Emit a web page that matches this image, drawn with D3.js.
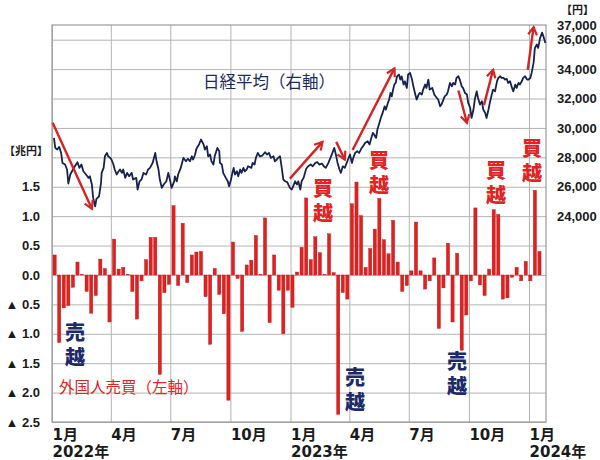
<!DOCTYPE html>
<html>
<head>
<meta charset="utf-8">
<title>外国人売買と日経平均</title>
<style>
  body { margin: 0; background: #fff; }
  #viz { width: 600px; height: 460px; }
  .grid line { stroke: #b4b4b4; stroke-width: 1; }
  .grid .domain { display: none; }
  .axis .domain { display: none; }
  .axis text { font-family: "Liberation Sans", Arial, sans-serif; font-weight: bold; font-size: 13px; fill: #1a1a1a; }
  .xaxis text { font-family: "DejaVu Sans", "Noto Sans CJK JP", sans-serif; font-weight: bold; font-size: 15px; fill: #1a1a1a; }
  .unit { font-family: "Noto Sans CJK JP", sans-serif; font-weight: bold; font-size: 11px; fill: #1a1a1a; }
  .note { font-family: "Noto Sans CJK JP", sans-serif; }
  .vert { writing-mode: vertical-rl; }
</style>
</head>
<body>
<div id="viz"></div>
<script src="https://cdnjs.cloudflare.com/ajax/libs/d3/7.8.5/d3.min.js"></script>
<script>
// weekly net buying by foreign investors (trillion yen), weeks starting 2022-01-05 (Wed)
var firstWeek = "2022-01-05";
var foreignNet = [
  0.34, -1.15, -0.56, -0.52, -0.21, 0.22, 0.01, -0.28, -0.65, -0.35,
  0.27, 0.11, -0.80, 0.61, 0.10, 0.13, 0.01, -0.28, -0.75, -0.10,
  0.26, 0.64, 0.64, -1.69, -0.30, -0.16, 1.18, -0.18, 0.88, -0.13,
  0.34, 0.39, 0.40, -0.37, -1.18, 0.11, -0.33, -0.66, -2.13, 0.56,
  -0.06, -0.96, 0.17, 0.25, 0.67, 0.01, 0.97, -0.81, 0.34, -0.26,
  -1.00, -0.26, -0.55, 0.05, 0.47, 1.31, 0.26, 0.65, 0.38, 0.01,
  0.70, 0.04, -2.37, -0.30, -0.41, 1.21, 1.58, 1.01, 0.13, 0.45,
  0.78, 1.30, 0.60, 0.36, 0.93, 0.22, -0.28, -0.18, 0.07, 0.90,
  0.07, -0.24, -0.10, 0.29, -0.91, -0.22, 0.54, -0.80, 0.37, -1.28,
  -0.68, -0.10, 1.14, -0.17, -0.35, 0.10, 1.11, 1.03, -0.41, -0.39,
  -0.04, 0.13, -0.10, 0.23, -0.10, 1.44, 0.40
];

// Nikkei average (yen)
var nikkeiDates = [
  "2022-01-04","2022-01-06","2022-01-09","2022-01-12","2022-01-15","2022-01-17","2022-01-21","2022-01-24","2022-01-26","2022-01-29",
  "2022-02-02","2022-02-05","2022-02-09","2022-02-12","2022-02-15","2022-02-18","2022-02-22","2022-02-26","2022-02-28","2022-03-03",
  "2022-03-05","2022-03-08","2022-03-10","2022-03-14","2022-03-17","2022-03-18","2022-03-21","2022-03-23","2022-03-26","2022-03-28",
  "2022-03-31","2022-04-02","2022-04-05","2022-04-07","2022-04-10","2022-04-13","2022-04-15","2022-04-18","2022-04-20","2022-04-23",
  "2022-04-26","2022-04-29","2022-05-03","2022-05-05","2022-05-10","2022-05-12","2022-05-15","2022-05-18","2022-05-21","2022-05-25",
  "2022-05-28","2022-05-31","2022-06-04","2022-06-08","2022-06-10","2022-06-13","2022-06-15","2022-06-18","2022-06-21","2022-06-25",
  "2022-06-28","2022-07-01","2022-07-03","2022-07-07","2022-07-08","2022-07-11","2022-07-13","2022-07-17","2022-07-21","2022-07-25",
  "2022-07-28","2022-07-31","2022-08-03","2022-08-05","2022-08-08","2022-08-10","2022-08-14","2022-08-17","2022-08-21","2022-08-23",
  "2022-08-26","2022-08-28","2022-08-31","2022-09-02","2022-09-05","2022-09-07","2022-09-11","2022-09-14","2022-09-15","2022-09-18",
  "2022-09-20","2022-09-24","2022-09-27","2022-09-29","2022-10-02","2022-10-04","2022-10-06","2022-10-08","2022-10-11","2022-10-13",
  "2022-10-16","2022-10-18","2022-10-21","2022-10-23","2022-10-26","2022-10-28","2022-11-02","2022-11-04","2022-11-07","2022-11-09",
  "2022-11-12","2022-11-15","2022-11-19","2022-11-23","2022-11-26","2022-11-29","2022-12-02","2022-12-06","2022-12-08","2022-12-11",
  "2022-12-13","2022-12-16","2022-12-19","2022-12-21","2022-12-24","2022-12-27","2022-12-31","2023-01-03","2023-01-05","2023-01-08",
  "2023-01-11","2023-01-13","2023-01-16","2023-01-18","2023-01-21","2023-01-25","2023-01-28","2023-02-01","2023-02-04","2023-02-08",
  "2023-02-11","2023-02-14","2023-02-18","2023-02-21","2023-02-24","2023-02-28","2023-03-04","2023-03-07","2023-03-09","2023-03-12",
  "2023-03-14","2023-03-17","2023-03-19","2023-03-22","2023-03-25","2023-03-28","2023-03-30","2023-04-02","2023-04-05","2023-04-07",
  "2023-04-10","2023-04-13","2023-04-16","2023-04-20","2023-04-22","2023-04-25","2023-04-29","2023-05-02","2023-05-04","2023-05-07",
  "2023-05-09","2023-05-12","2023-05-14","2023-05-17","2023-05-20","2023-05-22","2023-05-25","2023-05-27","2023-05-30","2023-06-01",
  "2023-06-03","2023-06-05","2023-06-07","2023-06-09","2023-06-11","2023-06-13","2023-06-16","2023-06-18","2023-06-20","2023-06-23",
  "2023-06-25","2023-06-28","2023-06-30","2023-07-03","2023-07-06","2023-07-08","2023-07-11","2023-07-13","2023-07-16","2023-07-18",
  "2023-07-21","2023-07-23","2023-07-26","2023-07-28","2023-07-31","2023-08-02","2023-08-06","2023-08-09","2023-08-13","2023-08-15",
  "2023-08-18","2023-08-20","2023-08-23","2023-08-25","2023-08-28","2023-08-30","2023-09-02","2023-09-05","2023-09-07","2023-09-10",
  "2023-09-12","2023-09-15","2023-09-17","2023-09-20","2023-09-22","2023-09-25","2023-09-28","2023-09-30","2023-10-03","2023-10-05",
  "2023-10-08","2023-10-10","2023-10-13","2023-10-15","2023-10-18","2023-10-21","2023-10-23","2023-10-26","2023-10-28","2023-10-31",
  "2023-11-02","2023-11-05","2023-11-07","2023-11-10","2023-11-13","2023-11-15","2023-11-18","2023-11-20","2023-11-23","2023-11-25",
  "2023-11-28","2023-11-30","2023-12-03","2023-12-06","2023-12-08","2023-12-11","2023-12-13","2023-12-16","2023-12-18","2023-12-21",
  "2023-12-23","2023-12-26","2023-12-29","2023-12-31","2024-01-03","2024-01-05","2024-01-08","2024-01-10","2024-01-13","2024-01-15",
  "2024-01-18","2024-01-21","2024-01-23","2024-01-26"
];
var nikkeiValues = [
  29320,28640,28530,28710,28300,27620,27510,27170,26220,26830,
  27170,27390,27670,27280,27510,27050,26830,26600,26710,26150,
  25240,24670,25180,25350,26260,26940,27280,28070,28300,28070,
  27960,27850,27510,27170,26830,27050,27170,26940,27170,26600,
  26940,26710,26940,26490,26600,25810,26370,26490,26940,26830,
  27170,27280,27620,28300,27730,27170,26490,25920,26150,26370,
  26940,26370,25920,26370,26710,26370,26830,27280,27960,27730,
  27900,27730,28070,27850,28190,28580,28870,29210,28870,28530,
  28750,28070,28190,27730,27510,28070,28640,28410,27620,27510,
  26940,26600,26370,26030,26490,26940,27280,26830,27050,26710,
  27170,26940,27280,27050,27170,27390,27280,27620,27510,27960,
  28300,28070,28120,28350,28190,28300,27960,28070,27730,27850,
  27960,28070,27170,26490,26370,26310,25920,25810,26030,26370,
  26150,26370,25810,26370,26600,27220,27390,27510,27390,27620,
  27670,27510,27580,27390,27280,27620,28070,28410,28640,28070,
  27620,27170,26940,27390,27280,27620,27850,28190,27620,27960,
  28300,28410,28300,28640,28750,28980,29090,28870,29210,29660,
  29550,29320,29890,30340,30790,31020,31470,31250,31700,31930,
  32380,32150,32610,32950,33060,33510,33630,33290,33510,32950,
  33170,32720,33630,33740,33290,32830,32270,31930,32270,32380,
  32270,32610,32950,32720,33290,32610,32720,32270,32040,31930,
  31470,31590,31930,32150,32270,32490,33060,32830,33060,32950,
  33400,33510,33290,32830,32720,32380,32270,31700,31360,30680,
  31250,31930,32490,32040,31590,31810,31250,31020,30680,31250,
  31700,32270,32610,32490,33170,33400,33510,33400,33400,33290,
  33340,33060,33170,32720,32490,32950,32720,33060,32950,33170,
  33400,33510,33290,33290,33400,33740,34420,35440,35670,35440,
  36120,36480,36230,35780
];

var leftTicks = [1.5, 1.0, 0.5, 0.0, -0.5, -1.0, -1.5, -2.0, -2.5];
var rightTicks = [24000, 26000, 28000, 30000, 32000, 34000, 36000, 37000];
var gridValues = [-2.5, -2.0, -1.5, -1.0, -0.5, 0, 0.5, 1.0, 1.5, 2.0, 2.5, 3.0, 3.5, 4.0];

// arrows drawn along the index: [from date, from yen, to date, to yen]
var trendArrows = [
  ["2022-01-02", 30360, "2022-03-03", 24500],
  ["2022-12-31", 26550, "2023-02-19", 29050],
  ["2023-03-12", 29050, "2023-03-25", 27850],
  ["2023-04-06", 28500, "2023-06-09", 34050],
  ["2023-09-15", 32550, "2023-09-28", 30350],
  ["2023-10-24", 31550, "2023-11-07", 33950],
  ["2023-12-30", 33950, "2024-01-08", 36850]
];

(function() {
  var parse = d3.timeParse("%Y-%m-%d");
  var left = 52, right = 546, top = 25, bottom = 422;

  var x = d3.scaleTime()
      .domain([parse("2022-01-01"), parse("2024-01-27")])
      .range([left, right]);
  var yL = d3.scaleLinear().domain([-2.5, 4.25]).range([bottom, top]);
  var yR = d3.scaleLinear().domain([10000, 37000]).range([bottom, top]);

  var svg = d3.select("#viz").append("svg")
      .attr("width", 600)
      .attr("height", 460);

  // grid
  svg.append("g")
      .attr("class", "grid")
      .attr("transform", "translate(" + left + ",0)")
      .call(d3.axisLeft(yL).tickValues(gridValues).tickSize(-(right - left)).tickFormat(""));

  svg.append("g")
      .attr("class", "grid")
      .attr("transform", "translate(0," + bottom + ")")
      .call(d3.axisBottom(x).ticks(d3.timeMonth.every(3)).tickSize(-(bottom - top)).tickFormat(""));

  svg.append("rect")
      .attr("x", left).attr("y", top)
      .attr("width", right - left).attr("height", bottom - top)
      .attr("fill", "none")
      .attr("stroke", "#9a9a9a")
      .attr("stroke-width", 1.2);

  // bars
  var bars = foreignNet.map(function(v, i) {
    return { date: d3.timeWeek.offset(parse(firstWeek), i), value: v };
  });
  var bw = 3.2;

  svg.append("g").selectAll("rect")
      .data(bars)
    .enter().append("rect")
      .attr("x", function(d) { return x(d.date) - bw / 2; })
      .attr("y", function(d) { return yL(Math.max(0, d.value)); })
      .attr("width", bw)
      .attr("height", function(d) { return Math.abs(yL(d.value) - yL(0)); })
      .attr("fill", "#dd2222")
      .attr("stroke", "#c01515")
      .attr("stroke-width", 0.4);

  // nikkei line
  var nikkei = nikkeiDates.map(function(s, i) { return { date: parse(s), value: nikkeiValues[i] }; });

  svg.append("path")
      .datum(nikkei)
      .attr("fill", "none")
      .attr("stroke", "#17224f")
      .attr("stroke-width", 1.8)
      .attr("stroke-linejoin", "round")
      .attr("d", d3.line()
        .x(function(d) { return x(d.date); })
        .y(function(d) { return yR(d.value); }));

  // arrows
  svg.append("defs").append("marker")
      .attr("id", "head")
      .attr("viewBox", "0 0 10 10")
      .attr("refX", 8).attr("refY", 5)
      .attr("markerWidth", 11).attr("markerHeight", 11)
      .attr("markerUnits", "userSpaceOnUse")
      .attr("orient", "auto")
    .append("path")
      .attr("d", "M1,1 L8,5 L1,9")
      .attr("fill", "none")
      .attr("stroke", "#d42424")
      .attr("stroke-width", 2);

  svg.append("g").selectAll("line")
      .data(trendArrows)
    .enter().append("line")
      .attr("x1", function(d) { return x(parse(d[0])); })
      .attr("y1", function(d) { return yR(d[1]); })
      .attr("x2", function(d) { return x(parse(d[2])); })
      .attr("y2", function(d) { return yR(d[3]); })
      .attr("stroke", "#d42424")
      .attr("stroke-width", 2.4)
      .attr("marker-end", "url(#head)");

  // axes
  svg.append("g")
      .attr("class", "axis")
      .attr("transform", "translate(" + left + ",0)")
      .call(d3.axisLeft(yL).tickValues(leftTicks).tickSize(0).tickPadding(12)
        .tickFormat(function(v) {
          return v < 0 ? "\u25B2 " + d3.format(".1f")(-v) : d3.format(".1f")(v);
        }));

  svg.append("g")
      .attr("class", "axis")
      .attr("transform", "translate(" + right + ",0)")
      .call(d3.axisRight(yR).tickValues(rightTicks).tickSize(0).tickPadding(11)
        .tickFormat(d3.format(",")));

  var gx = svg.append("g")
      .attr("class", "axis xaxis")
      .attr("transform", "translate(0," + bottom + ")")
      .call(d3.axisBottom(x).ticks(d3.timeMonth.every(3)).tickSize(0)
        .tickFormat(function(d) { return (d.getMonth() + 1) + "月"; }));

  gx.selectAll("text")
      .attr("text-anchor", "start")
      .attr("dy", null)
      .attr("y", 18);

  gx.selectAll(".tick")
      .filter(function(d) { return d.getMonth() === 0; })
    .append("text")
      .attr("text-anchor", "start")
      .attr("y", 35)
      .attr("fill", "#1a1a1a")
      .text(function(d) { return d.getFullYear() + "年"; });

  svg.append("text").attr("class", "unit")
      .attr("x", 4).attr("y", 155)
      .text("【兆円】");

  svg.append("text").attr("class", "unit")
      .attr("x", 561).attr("y", 14)
      .text("【円】");

  // notes
  svg.append("text").attr("class", "note")
      .attr("x", 203).attr("y", 88)
      .attr("font-size", 16.5)
      .attr("fill", "#1c2a5e")
      .text("日経平均（右軸）");

  svg.append("text").attr("class", "note")
      .attr("x", 59).attr("y", 393)
      .attr("font-size", 15.5)
      .attr("fill", "#e02424")
      .text("外国人売買（左軸）");

  // vertical two-character notes; cx = column centre, top = top of first glyph
  var stacked = [
    { text: "売越", cx: 75, top: 322, color: "#1c2a6a" },
    { text: "売越", cx: 355, top: 367, color: "#1c2a6a" },
    { text: "売越", cx: 457, top: 351, color: "#1c2a6a" },
    { text: "買越", cx: 323, top: 178, color: "#e02424" },
    { text: "買越", cx: 379, top: 150, color: "#e02424" },
    { text: "買越", cx: 496, top: 160, color: "#e02424" },
    { text: "買越", cx: 532, top: 138, color: "#e02424" }
  ];

  svg.append("g").selectAll("text")
      .data(stacked)
    .enter().append("text")
      .attr("class", "note vert")
      .attr("x", function(d) { return d.cx; })
      .attr("y", function(d) { return d.top; })
      .attr("font-size", 20)
      .attr("font-weight", 900)
      .attr("letter-spacing", 5)
      .attr("fill", function(d) { return d.color; })
      .text(function(d) { return d.text; });
})();
</script>
</body>
</html>
